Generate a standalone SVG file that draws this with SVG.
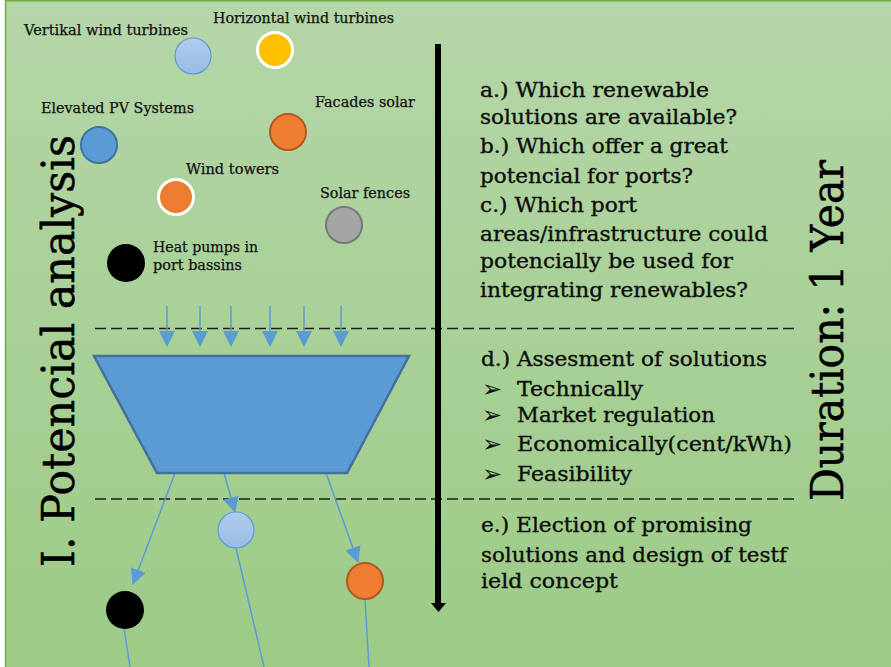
<svg xmlns="http://www.w3.org/2000/svg" width="891" height="667" viewBox="0 0 891 667">
<defs>
<linearGradient id="bg" x1="0" y1="0" x2="0" y2="1">
<stop offset="0" stop-color="#b5d6a8"/>
<stop offset="1" stop-color="#9ccb86"/>
</linearGradient>
<linearGradient id="lb" x1="0" y1="0" x2="0" y2="1">
<stop offset="0" stop-color="#b1cceb"/>
<stop offset="1" stop-color="#98bbe5"/>
</linearGradient>
<marker id="ah" markerUnits="userSpaceOnUse" markerWidth="16" markerHeight="16" viewBox="0 0 16 16" refX="15" refY="8" orient="auto">
<path d="M0,0 L16,8 L0,16 Z" fill="#5b9bd5"/>
</marker>
<style>
.lbl{font-family:"DejaVu Serif","Liberation Serif",serif;font-size:14px;fill:#111;stroke:#111;stroke-width:0.25}
.txt{font-family:"DejaVu Serif","Liberation Serif",serif;font-size:20px;fill:#0d0d0d;stroke:#0d0d0d;stroke-width:0.35}
.big{font-family:"DejaVu Serif","Liberation Serif",serif;font-size:44px;fill:#000;stroke:#000;stroke-width:0.5}
.bul{font-family:"DejaVu Sans",sans-serif;font-size:24px;fill:#111}
.conn{stroke:#5b9bd5;stroke-width:1.5;fill:none}
.dash{stroke:#1e1e1e;stroke-width:1.5;stroke-dasharray:11 5;fill:none}
.org{fill:#ed7d31;stroke:#ae5a21;stroke-width:2}
.wht{stroke:#ffffff;stroke-width:3}
</style>
</defs>
<rect x="0" y="0" width="891" height="667" fill="#ffffff"/>
<rect x="5" y="0" width="886" height="667" fill="url(#bg)"/>
<line x1="5.5" y1="0" x2="5.5" y2="667" stroke="#70ad47" stroke-width="1.5"/>
<line x1="5" y1="0.75" x2="891" y2="0.75" stroke="#70ad47" stroke-width="1.5"/>

<g id="dashed-lines">
<line class="dash" x1="95" y1="328.5" x2="796" y2="328.5"/>
<line class="dash" x1="95" y1="499" x2="796" y2="499"/>
</g>

<g id="connectors">
<line class="conn" x1="167" y1="306" x2="167" y2="346" marker-end="url(#ah)"/>
<line class="conn" x1="200" y1="306" x2="200" y2="346" marker-end="url(#ah)"/>
<line class="conn" x1="231" y1="306" x2="231" y2="346" marker-end="url(#ah)"/>
<line class="conn" x1="270" y1="306" x2="270" y2="346" marker-end="url(#ah)"/>
<line class="conn" x1="304" y1="306" x2="304" y2="346" marker-end="url(#ah)"/>
<line class="conn" x1="341" y1="306" x2="341" y2="346" marker-end="url(#ah)"/>
<line class="conn" x1="175" y1="473" x2="133" y2="584" marker-end="url(#ah)"/>
<line class="conn" x1="224" y1="473" x2="235" y2="512" marker-end="url(#ah)"/>
<line class="conn" x1="326" y1="473" x2="358" y2="562" marker-end="url(#ah)"/>
<line class="conn" x1="124" y1="628" x2="130" y2="667"/>
<line class="conn" x1="236" y1="548" x2="264" y2="667"/>
<line class="conn" x1="365" y1="599" x2="369" y2="667"/>
</g>

<g id="timeline-arrow">
<line x1="438" y1="44" x2="438" y2="605" stroke="#000" stroke-width="6"/>
<polygon points="431,603 446,603 438.5,612" fill="#000"/>
</g>

<g id="funnel">
<polygon points="94,356 409,356 347,473 157,473" fill="#5b9bd5" stroke="#41719c" stroke-width="2.5"/>
</g>

<g id="n-vertikal">
<circle cx="193" cy="56" r="18" fill="url(#lb)" stroke="#5b9bd5" stroke-width="1.2"/>
<text class="lbl" x="24" y="35" textLength="164" lengthAdjust="spacingAndGlyphs">Vertikal wind turbines</text>
</g>
<g id="n-horizontal">
<circle cx="275" cy="50" r="17.5" fill="#ffc000" class="wht"/>
<text class="lbl" x="213" y="23" textLength="181" lengthAdjust="spacingAndGlyphs">Horizontal wind turbines</text>
</g>
<g id="n-elevated">
<circle cx="99" cy="145" r="18" fill="#5b9bd5" stroke="#41719c" stroke-width="2"/>
<text class="lbl" x="41" y="113" textLength="153" lengthAdjust="spacingAndGlyphs">Elevated PV Systems</text>
</g>
<g id="n-facades">
<circle cx="288" cy="132" r="18" class="org"/>
<text class="lbl" x="315" y="107" textLength="100" lengthAdjust="spacingAndGlyphs">Facades solar</text>
</g>
<g id="n-windtowers">
<circle cx="176" cy="197" r="17.5" fill="#ed7d31" class="wht"/>
<text class="lbl" x="186" y="174" textLength="93" lengthAdjust="spacingAndGlyphs">Wind towers</text>
</g>
<g id="n-fences">
<circle cx="344" cy="225" r="18" fill="#a5a5a5" stroke="#787878" stroke-width="2"/>
<text class="lbl" x="320" y="198" textLength="90" lengthAdjust="spacingAndGlyphs">Solar fences</text>
</g>
<g id="n-heatpumps">
<circle cx="126" cy="263" r="19" fill="#000"/>
<text class="lbl" x="153" y="252" textLength="105" lengthAdjust="spacingAndGlyphs">Heat pumps in</text>
<text class="lbl" x="153" y="270" textLength="89" lengthAdjust="spacingAndGlyphs">port bassins</text>
</g>

<g id="n-out-black">
<circle cx="125" cy="610" r="19" fill="#000"/>
</g>
<g id="n-out-lightblue">
<circle cx="236" cy="530" r="18" fill="url(#lb)" stroke="#5b9bd5" stroke-width="1.2"/>
</g>
<g id="n-out-orange">
<circle cx="365" cy="581" r="18" class="org"/>
</g>

<g id="title-left">
<text class="big" transform="translate(74,567) rotate(-90)" textLength="432" lengthAdjust="spacingAndGlyphs">I. Potencial analysis</text>
</g>
<g id="title-right">
<text class="big" font-size="42" transform="translate(843,501) rotate(-90)" textLength="341" lengthAdjust="spacingAndGlyphs">Duration: 1 Year</text>
</g>

<g id="questions">
<text class="txt" x="480" y="97" textLength="229" lengthAdjust="spacingAndGlyphs">a.) Which renewable</text>
<text class="txt" x="480" y="124" textLength="257" lengthAdjust="spacingAndGlyphs">solutions are available?</text>
<text class="txt" x="480" y="153" textLength="248" lengthAdjust="spacingAndGlyphs">b.) Which offer a great</text>
<text class="txt" x="480" y="183" textLength="213" lengthAdjust="spacingAndGlyphs">potencial for ports?</text>
<text class="txt" x="480" y="212" textLength="157" lengthAdjust="spacingAndGlyphs">c.) Which port</text>
<text class="txt" x="480" y="241" textLength="288" lengthAdjust="spacingAndGlyphs">areas/infrastructure could</text>
<text class="txt" x="480" y="268" textLength="253" lengthAdjust="spacingAndGlyphs">potencially be used for</text>
<text class="txt" x="480" y="297" textLength="268" lengthAdjust="spacingAndGlyphs">integrating renewables?</text>
</g>
<g id="assessment">
<text class="txt" x="481" y="366" textLength="286" lengthAdjust="spacingAndGlyphs">d.) Assesment of solutions</text>
<text class="bul" x="482" y="397">➢</text>
<text class="txt" x="517" y="396" textLength="126" lengthAdjust="spacingAndGlyphs">Technically</text>
<text class="bul" x="482" y="423">➢</text>
<text class="txt" x="517" y="422" textLength="198" lengthAdjust="spacingAndGlyphs">Market regulation</text>
<text class="bul" x="482" y="452">➢</text>
<text class="txt" x="517" y="451" textLength="275" lengthAdjust="spacingAndGlyphs">Economically(cent/kWh)</text>
<text class="bul" x="482" y="482">➢</text>
<text class="txt" x="517" y="481" textLength="115" lengthAdjust="spacingAndGlyphs">Feasibility</text>
</g>
<g id="election">
<text class="txt" x="481" y="532" textLength="271" lengthAdjust="spacingAndGlyphs">e.) Election of promising</text>
<text class="txt" x="481" y="562" textLength="306" lengthAdjust="spacingAndGlyphs">solutions and design of testf</text>
<text class="txt" x="481" y="588" textLength="137" lengthAdjust="spacingAndGlyphs">ield concept</text>
</g>
</svg>
